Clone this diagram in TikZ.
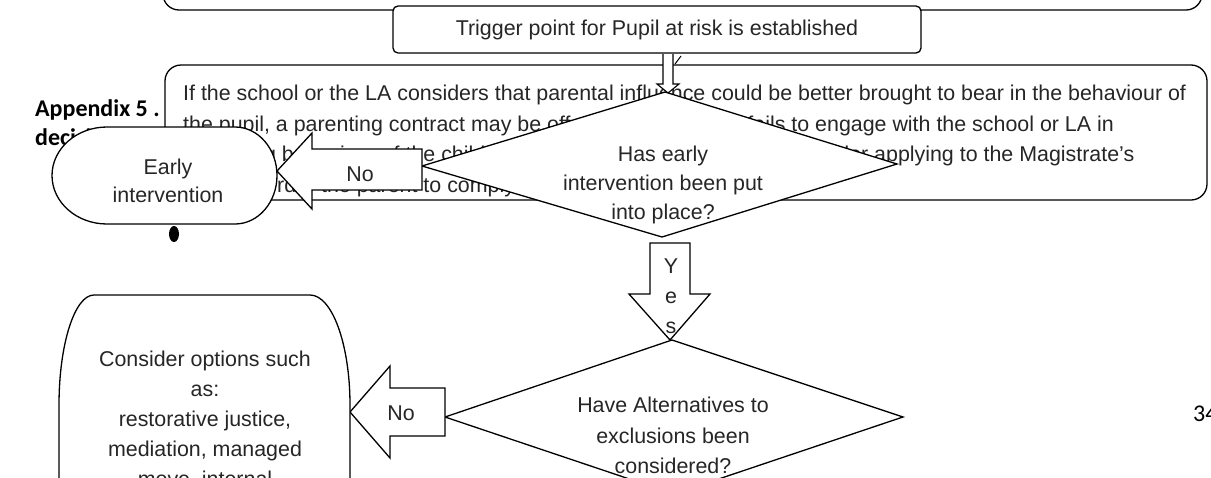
\documentclass[tikz,border=0pt]{standalone}
\usepackage{fontspec}
\setmainfont{Liberation Sans}
\newfontfamily\headfont{Carlito}
\begin{document}
\begin{tikzpicture}[x=1pt,y=1pt,
  shp/.style={draw=black, line width=1.3pt, fill=white},
  boxnode/.style={shp, inner sep=0pt, outer sep=0pt},
  txt/.style={font=\fontsize{21.4}{26}\selectfont, text=black!85, inner sep=0pt},
  ln/.style={txt, anchor=base west},
  cl/.style={txt, anchor=base},
  hd/.style={font=\headfont\bfseries\fontsize{24}{28}\selectfont, anchor=base west, inner sep=0pt},
  pg/.style={font=\headfont\fontsize{24}{28}\selectfont, anchor=base west, inner sep=0pt}]
\useasboundingbox (0,0) rectangle (1211,-477);
\clip (0,0) rectangle (1211,-477);
% heading (mostly covered)
\node[hd] (head1) at (35,-116) {Appendix 5 . Exclusions};
\node[hd] (head2) at (35,-145) {decision};
% previous box (cut at top)
\node[boxnode, rounded corners=16pt, minimum width=1039pt, minimum height=70pt, anchor=south west] (prev) at (163,-10) {};
% trigger box
\node[boxnode, rounded corners=5pt, minimum width=528pt, minimum height=47pt, anchor=north west, txt] (trigger) at (393,-6) {Trigger point for Pupil at risk is established};
% parental box
\node[boxnode, rounded corners=16pt, minimum width=1042pt, minimum height=135pt, anchor=north west] (parental) at (165,-65) {};
\node[ln] (p1) at (183,-100) {If the school or the LA considers that parental influence could be better brought to bear in the behaviour of};
\node[ln] (p2) at (183,-131) {the pupil, a parenting contract may be offered. If the parent fails to engage with the school or LA in};
\node[ln] (p3) at (183,-161) {improving behaviour of the child, then the school or the LA may consider applying to the Magistrate's};
\node[ln] (p4) at (183,-192) {Court to order the parent to comply.};
% down arrow from trigger
\draw[shp, line width=1.1pt] (663,-54) -- (663,-84) -- (657,-84) -- (668,-93) -- (679,-84) -- (673,-84) -- (673,-54);
\draw[line width=1pt] (675,-64) -- (681,-56);
% diamond 1
\coordinate (d1t) at (665,-92);
\coordinate (d1r) at (897,-164);
\coordinate (d1b) at (662,-237);
\coordinate (d1l) at (422,-166);
\draw[shp] (d1t) -- (d1r) -- (d1b) -- (d1l) -- cycle;
\node[cl] (q1a) at (663,-161) {Has early};
\node[cl] (q1b) at (663,-190) {intervention been put};
\node[cl] (q1c) at (663,-219) {into place?};
% No arrow 1
\draw[shp] (d1l |- 0,-149) -- (312,-149) -- (312,-133) -- (277,-171) -- (312,-209) -- (312,-190) -- (d1l |- 0,-190) -- cycle;
\node[cl] (no1) at (360,-181) {No};
% Early intervention
\draw[shp] (107,-127) -- (235,-127) arc[start angle=90, end angle=-90, x radius=42pt, y radius=48.5pt] -- (107,-224) arc[start angle=270, end angle=90, x radius=55pt, y radius=48.5pt] -- cycle;
\node[cl] (e1) at (168,-174) {Early};
\node[cl] (e2) at (168,-202) {intervention};
\fill (174,-234) ellipse[x radius=5pt, y radius=8pt];
% Yes arrow
\draw[shp] (650,-243) -- (690,-243) -- (690,-294) -- (710,-294) -- (670,-340) -- (629,-294) -- (650,-294) -- cycle;
\node[cl] (y1) at (671,-273) {Y};
\node[cl] (y2) at (671,-303) {e};
\node[cl] (y3) at (671,-333) {s};
% diamond 2
\coordinate (d2t) at (672,-340);
\coordinate (d2r) at (903,-417);
\coordinate (d2b) at (674,-494);
\coordinate (d2l) at (445,-417);
\draw[shp] (d2t) -- (d2r) -- (d2b) -- (d2l) -- cycle;
\node[cl] (q2a) at (673,-412) {Have Alternatives to};
\node[cl] (q2b) at (673,-443) {exclusions been};
\node[cl] (q2c) at (673,-473) {considered?};
% No arrow 2
\draw[shp] (445,-388) -- (390,-388) -- (390,-366) -- (350,-412) -- (390,-458) -- (390,-436) -- (445,-436) -- cycle;
\node[cl] (no2) at (401,-420) {No};
% Consider options
\draw[shp] (59,-500) -- (59,-405) arc[start angle=180, end angle=90, x radius=35pt, y radius=110pt] -- (310,-295) arc[start angle=90, end angle=0, x radius=40pt, y radius=110pt] -- (350,-500) -- cycle;
\node[cl] (c1) at (205,-366) {Consider options such};
\node[cl] (c2) at (205,-396) {as:};
\node[cl] (c3) at (205,-426) {restorative justice,};
\node[cl] (c4) at (205,-456) {mediation, managed};
\node[cl] (c5) at (205,-486) {move, internal};
% page number
\node[pg] (page) at (1193,-421) {34};
\end{tikzpicture}
\end{document}
